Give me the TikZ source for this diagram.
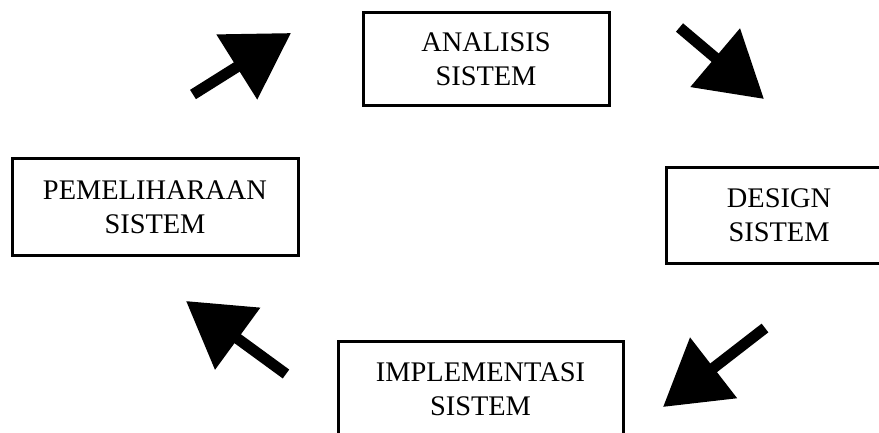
\documentclass[tikz,border=0pt]{standalone}
\usepackage{fontspec}
\setmainfont{Liberation Serif}
\usetikzlibrary{arrows.meta}
\tikzset{>={Triangle[length=64pt,width=74pt]}}
\tikzstyle{sysbox}=[draw,line width=3pt,inner sep=0pt,align=center,font=\fontsize{28.4}{34}\selectfont]
\tikzstyle{bigarrow}=[->,line width=11pt]

\begin{document}
\begin{tikzpicture}[x=1pt,y=-1pt]
  \useasboundingbox (0,0) rectangle (879,433);
  \clip (0,0) rectangle (879,433);
  
  % BOXES
  \node[sysbox,minimum width=246pt,minimum height=93pt] (analisis) at (486,59.5) {ANALISIS\\SISTEM};
  \node[sysbox,minimum width=226pt,minimum height=95pt] (design) at (779,215.5) {DESIGN\\SISTEM};
  \node[sysbox,minimum width=285pt,minimum height=96pt] (implementasi) at (480.5,389) {IMPLEMENTASI\\SISTEM};
  \node[sysbox,minimum width=286pt,minimum height=96pt] (pemeliharaan) at (155,207) {PEMELIHARAAN\\SISTEM};
  
  % ARROWS
  \coordinate (tail1) at (193,94.5);  \coordinate (tip1) at (291,33);
  \coordinate (tail2) at (679.5,27.5); \coordinate (tip2) at (764,99);
  \coordinate (tail3) at (765,328);   \coordinate (tip3) at (663,407);
  \coordinate (tail4) at (286,374);   \coordinate (tip4) at (186,301);
  \draw[bigarrow] (tail1) -- (tip1);
  \draw[bigarrow] (tail2) -- (tip2);
  \draw[bigarrow] (tail3) -- (tip3);
  \draw[bigarrow] (tail4) -- (tip4);
  
\end{tikzpicture}
\end{document}
